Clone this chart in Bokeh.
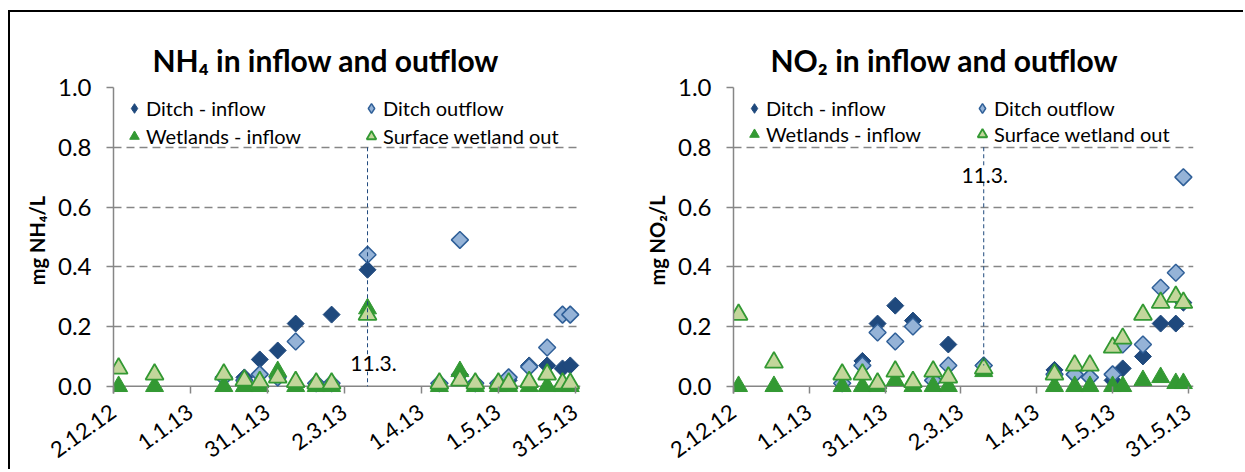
import math
import pandas as pd
from bokeh.plotting import figure
from bokeh.models import (Range1d, FixedTicker, PrintfTickFormatter, Legend, LegendItem,
                          Label, ColumnDataSource, CustomJSTickFormatter, Span)
from bokeh.layouts import row
from bokeh.embed import file_html
from bokeh.resources import INLINE

# ---------------- data ----------------
wetland_dates = ["2012-12-04", "2012-12-18", "2013-01-14", "2013-01-22", "2013-01-28",
                 "2013-02-04", "2013-02-11", "2013-02-19", "2013-02-25", "2013-03-11",
                 "2013-04-08", "2013-04-16", "2013-04-22", "2013-05-01", "2013-05-05",
                 "2013-05-13", "2013-05-20", "2013-05-26", "2013-05-29"]
ditch_dates = ["2013-01-14", "2013-01-22", "2013-01-28", "2013-02-04", "2013-02-11",
               "2013-02-19", "2013-02-25", "2013-03-11", "2013-04-08", "2013-04-16",
               "2013-04-22", "2013-05-01", "2013-05-05", "2013-05-13", "2013-05-20",
               "2013-05-26", "2013-05-29"]

nh4_ditch_in = [0.03, 0.03, 0.09, 0.12, 0.21, 0.01, 0.24, 0.39, 0.01, 0.04, 0.01, 0.01,
                0.02, 0.07, 0.07, 0.06, 0.07]
nh4_ditch_out = [0.03, 0.02, 0.04, 0.03, 0.15, 0.01, 0.01, 0.44, 0.01, 0.49, 0.01, 0.01,
                 0.03, 0.065, 0.13, 0.24, 0.24]
nh4_wet_in = [0.0, 0.0, 0.0, 0.0, 0.0, 0.05, 0.0, 0.0, 0.0, 0.26, 0.0, 0.05, 0.0, 0.0,
              0.0, 0.0, 0.0, 0.0, 0.0]
nh4_surface_out = [0.06, 0.04, 0.04, 0.02, 0.015, 0.03, 0.015, 0.01, 0.01, 0.24, 0.01,
                   0.02, 0.01, 0.01, 0.01, 0.015, 0.04, 0.01, 0.01]

no2_ditch_in = [0.01, 0.085, 0.21, 0.27, 0.22, 0.02, 0.14, 0.07, 0.055, 0.04, 0.03, 0.02,
                0.06, 0.10, 0.21, 0.21, 0.28]
no2_ditch_out = [0.01, 0.07, 0.18, 0.15, 0.20, 0.02, 0.07, 0.07, 0.04, 0.04, 0.03, 0.04,
                 0.14, 0.14, 0.33, 0.38, 0.70]
no2_wet_in = [0.0, 0.0, 0.0, 0.0, 0.0, 0.02, 0.0, 0.0, 0.0, 0.05, 0.0, 0.0, 0.0, 0.0,
              0.0, 0.02, 0.03, 0.01, 0.01]
no2_surface_out = [0.24, 0.08, 0.04, 0.04, 0.01, 0.05, 0.015, 0.05, 0.03, 0.06, 0.04,
                   0.07, 0.07, 0.13, 0.16, 0.24, 0.28, 0.30, 0.28]

series_names = ["Ditch - inflow", "Ditch outflow", "Wetlands - inflow", "Surface wetland out"]

tick_dates = ["2012-12-02", "2013-01-01", "2013-01-31", "2013-03-02", "2013-04-01",
              "2013-05-01", "2013-05-31"]
tick_labels = ["2.12.12", "1.1.13", "31.1.13", "2.3.13", "1.4.13", "1.5.13", "31.5.13"]
y_ticks = [0.0, 0.2, 0.4, 0.6, 0.8, 1.0]

event_date = "2013-03-11"
event_text = "11.3."

# ---------------- styling ----------------
FONT = "Lato"
C_DITCH_IN = "#1F497D"
C_DITCH_OUT_FILL = "#95B3D7"
C_DITCH_OUT_LINE = "#2F5F98"
C_WET = "#339933"
C_SURF_FILL = "#C3D69B"
GRID = "#868686"
Y_MIN = -0.024
NAN = float("nan")


def ms(d):
    return pd.Timestamp(d).value / 1e6


def make_chart(title, ylabel, d_in, d_out, w_in, s_out, ev_top, ev_bottom, ev_label_y,
               ev_label_dx, title_offset, frame_w, min_right, leg_label_w, leg_spacing):
    p = figure(x_axis_type="datetime", output_backend="svg", toolbar_location=None,
               frame_width=frame_w, frame_height=306,
               min_border_left=103, min_border_right=min_right,
               min_border_top=75, min_border_bottom=76,
               x_range=Range1d(ms(tick_dates[0]), ms(tick_dates[-1]) + 2 * 86400000),
               y_range=Range1d(Y_MIN, 1.0))
    p.outline_line_color = None
    p.background_fill_color = "white"
    p.border_fill_color = "white"

    # title
    p.title.text = title
    p.title.text_font = FONT
    p.title.text_font_size = "30px"
    p.title.text_font_style = "bold"
    p.title.text_color = "black"
    p.title.align = "left"
    p.title.offset = title_offset
    p.title.standoff = 19

    # grid
    p.xgrid.grid_line_color = None
    p.ygrid.ticker = FixedTicker(ticks=y_ticks[1:])
    p.ygrid.grid_line_color = GRID
    p.ygrid.grid_line_dash = "8 5"
    p.ygrid.grid_line_width = 1.5
    p.add_layout(Span(location=0, dimension="width", line_color=GRID, line_width=1.5,
                      level="underlay"))

    # x axis
    xa = p.xaxis[0]
    xt = [ms(d) for d in tick_dates]
    xa.ticker = FixedTicker(ticks=xt)
    xa.formatter = CustomJSTickFormatter(
        args=dict(tick_values=xt, tick_texts=tick_labels),
        code="""
        for (let i = 0; i < tick_values.length; i++) {
            if (Math.abs(tick_values[i] - tick) < 1000) { return tick_texts[i]; }
        }
        return "";
        """)
    xa.axis_line_color = None
    xa.major_tick_line_color = GRID
    xa.major_tick_line_width = 1.5
    xa.major_tick_out = 0
    xa.major_tick_in = 7
    xa.minor_tick_line_color = None
    xa.major_label_orientation = 0.62
    xa.major_label_text_font = FONT
    xa.major_label_text_font_size = "22px"
    xa.major_label_text_color = "black"
    xa.major_label_standoff = 16

    # y axis
    ya = p.yaxis[0]
    ya.ticker = FixedTicker(ticks=y_ticks)
    ya.formatter = PrintfTickFormatter(format="%.1f")
    ya.axis_line_color = GRID
    ya.axis_line_width = 1.5
    ya.major_tick_line_color = GRID
    ya.major_tick_line_width = 1.5
    ya.major_tick_out = 7
    ya.major_tick_in = 0
    ya.minor_tick_line_color = None
    ya.major_label_text_font = FONT
    ya.major_label_text_font_size = "24px"
    ya.major_label_text_color = "black"
    ya.major_label_standoff = 15
    ya.axis_label = ylabel
    ya.axis_label_text_font = FONT
    ya.axis_label_text_font_size = "20px"
    ya.axis_label_text_font_style = "bold"
    ya.axis_label_text_color = "black"
    ya.axis_label_standoff = 6

    src_di = ColumnDataSource(dict(x=pd.to_datetime(ditch_dates), y=d_in))
    src_do = ColumnDataSource(dict(x=pd.to_datetime(ditch_dates), y=d_out))
    src_wi = ColumnDataSource(dict(x=pd.to_datetime(wetland_dates), y=w_in))
    src_so = ColumnDataSource(dict(x=pd.to_datetime(wetland_dates), y=s_out))

    di_style = dict(fill_color=C_DITCH_IN, line_color=C_DITCH_IN, line_width=1)
    do_style = dict(fill_color=C_DITCH_OUT_FILL, line_color=C_DITCH_OUT_LINE, line_width=1.5)
    p.scatter("x", "y", source=src_di, marker="square", angle=math.pi / 4, size=12, **di_style)
    p.scatter("x", "y", source=src_do, marker="square", angle=math.pi / 4, size=12, **do_style)
    r3 = p.scatter("x", "y", source=src_wi, marker="triangle", size=18,
                   fill_color=C_WET, line_color=C_WET, line_width=1)
    r4 = p.scatter("x", "y", source=src_so, marker="triangle", size=18,
                   fill_color=C_SURF_FILL, line_color=C_WET, line_width=1.8)
    # legend-only diamond glyphs (a single NaN point: nothing drawn in the plot)
    l1 = p.scatter(x=[NAN], y=[NAN], marker="diamond", size=14, **di_style)
    l2 = p.scatter(x=[NAN], y=[NAN], marker="diamond", size=14, **do_style)

    # event marker line + label
    ev = ColumnDataSource(dict(x0=pd.to_datetime([event_date]), y0=[ev_top],
                               x1=pd.to_datetime([event_date]), y1=[ev_bottom]))
    p.segment("x0", "y0", "x1", "y1", source=ev, line_color=C_DITCH_IN,
              line_dash="4 3", line_width=1)
    p.add_layout(Label(x=ms(event_date), y=ev_label_y, text=event_text, x_offset=ev_label_dx,
                       text_align="center", text_baseline="middle",
                       text_font=FONT, text_font_size="21px", text_color="black",
                       background_fill_color="white"))

    legend = Legend(items=[LegendItem(label=series_names[0], renderers=[l1]),
                           LegendItem(label=series_names[1], renderers=[l2]),
                           LegendItem(label=series_names[2], renderers=[r3]),
                           LegendItem(label=series_names[3], renderers=[r4])],
                    ncols=2, orientation="horizontal", location="top_left",
                    margin=0, padding=9, spacing=leg_spacing,
                    glyph_width=24, glyph_height=24, label_standoff=0,
                    label_width=leg_label_w,
                    label_text_font=FONT, label_text_font_size="20px",
                    label_text_color="black",
                    background_fill_alpha=0, border_line_alpha=0)
    p.add_layout(legend)
    return p


p1 = make_chart("NH\u2084 in inflow and outflow", "mg NH\u2084/L",
                nh4_ditch_in, nh4_ditch_out, nh4_wet_in, nh4_surface_out,
                0.8, 0.0, 0.075, 6, 39, 467, 50, 209, 4)
p2 = make_chart("NO\u2082 in inflow and outflow", "mg NO\u2082/L",
                no2_ditch_in, no2_ditch_out, no2_wet_in, no2_surface_out,
                0.8, 0.07, 0.706, 1, 37, 460, 50, 202, 2)

layout = row(p1, p2, spacing=0,
             styles={"border-left": "2px solid black", "border-top": "2px solid black",
                     "margin-top": "10px", "margin-left": "8px"})

open("out.html", "w").write(file_html(layout, INLINE))
